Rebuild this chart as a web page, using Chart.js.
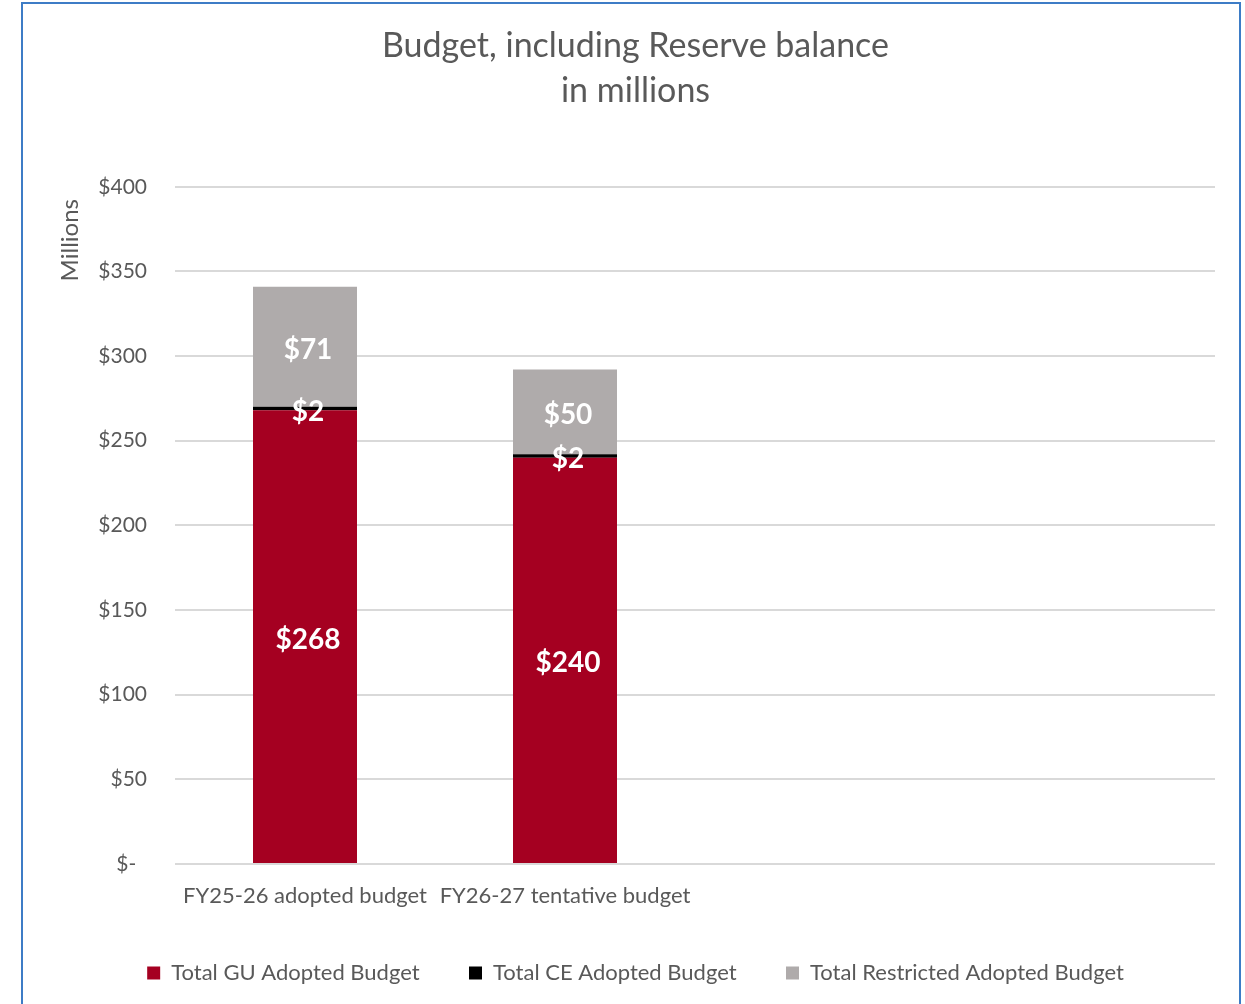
<!DOCTYPE html>
<html>
<head>
<meta charset="utf-8">
<script src="https://cdn.jsdelivr.net/npm/chart.js@4"></script>
<style>
  html,body{margin:0;padding:0;background:#fff;overflow:hidden;}
  #wrap{position:relative;width:1245px;height:1004px;overflow:hidden;}
  #frame{position:absolute;left:21px;top:2px;width:1220px;height:1100px;border:2px solid #3d7cc6;box-sizing:border-box;pointer-events:none;}
  #c{position:absolute;left:0;top:0;}
</style>
</head>
<body>
<div id="wrap">
  <canvas id="c" width="1245" height="1004" style="width:1245px;height:1004px"></canvas>
  <div id="frame"></div>
</div>
<script>
const categories = ["FY25-26 adopted budget", "FY26-27 tentative budget", "", ""];
const guBudget = [268, 240, null, null];
const ceBudget = [2, 2, null, null];
const restrictedBudget = [71, 50, null, null];
const yTicks = [0, 50, 100, 150, 200, 250, 300, 350, 400];

const FONT = "Lato";
const TXT = "#595959";

const labelPlugin = {
  id: 'barLabels',
  afterDatasetsDraw(chart) {
    const ctx = chart.ctx;
    ctx.save();
    ctx.fillStyle = '#ffffff';
    ctx.font = "bold 28px " + FONT;
    ctx.textAlign = 'center';
    ctx.textBaseline = 'middle';
    chart.data.datasets.forEach((ds, di) => {
      const meta = chart.getDatasetMeta(di);
      meta.data.forEach((el, i) => {
        const v = ds.data[i];
        if (v == null) return;
        const y = (el.y + el.base) / 2 + (v < 5 ? 3 : 3);
        ctx.fillText('$' + v, el.x + 3, y);
      });
    });
    ctx.restore();
  }
};

new Chart(document.getElementById('c'), {
  type: 'bar',
  data: {
    labels: categories,
    datasets: [
      { label: 'Total GU Adopted Budget', data: guBudget, backgroundColor: '#a50021' },
      { label: 'Total CE Adopted Budget', data: ceBudget, backgroundColor: '#000000' },
      { label: 'Total Restricted Adopted Budget', data: restrictedBudget, backgroundColor: '#afabab' }
    ]
  },
  options: {
    responsive: false,
    animation: false,
    devicePixelRatio: 1,
    layout: { padding: { left: 56, right: 30, top: 0, bottom: 10 } },
    datasets: { bar: { categoryPercentage: 1.0, barPercentage: 0.4 } },
    scales: {
      x: {
        stacked: true,
        grid: { display: false },
        border: { display: false },
        ticks: { color: TXT, font: { family: FONT, size: 22 }, padding: 11, maxRotation: 0, autoSkip: false },
        afterFit(s) { s.height = 88; }
      },
      y: {
        stacked: true,
        min: 0, max: 400,
        afterBuildTicks(s) { s.ticks = yTicks.map(v => ({ value: v })); },
        grid: { color: '#d9d9d9', lineWidth: 2, drawTicks: false },
        border: { display: false },
        ticks: {
          color: TXT, font: { family: FONT, size: 21 }, padding: 28,
          callback: v => v === 0 ? '$-  ' : '$' + v
        },
        title: { display: true, text: 'Millions  ', align: 'end', color: TXT, font: { family: FONT, size: 24 }, padding: { top: 0, bottom: 0 } },
        afterFit(s) { s.width = 119; }
      }
    },
    plugins: {
      title: {
        display: true,
        text: ['Budget, including Reserve balance', 'in millions'],
        color: TXT,
        font: { family: FONT, size: 34, weight: 'normal', lineHeight: 1.32 },
        padding: { top: 24, bottom: 73 }
      },
      legend: {
        position: 'bottom',
        labels: {
          color: TXT, font: { family: FONT, size: 22 }, boxWidth: 13, boxHeight: 13, padding: 10,
          generateLabels(chart) {
            const items = Chart.defaults.plugins.legend.labels.generateLabels(chart);
            items.forEach((it, i) => {
              it.lineWidth = 0;
              if (i < items.length - 1) it.text = it.text + '       ';
            });
            return items;
          }
        }
      },
      tooltip: { enabled: false }
    }
  },
  plugins: [labelPlugin]
});
</script>
</body>
</html>
